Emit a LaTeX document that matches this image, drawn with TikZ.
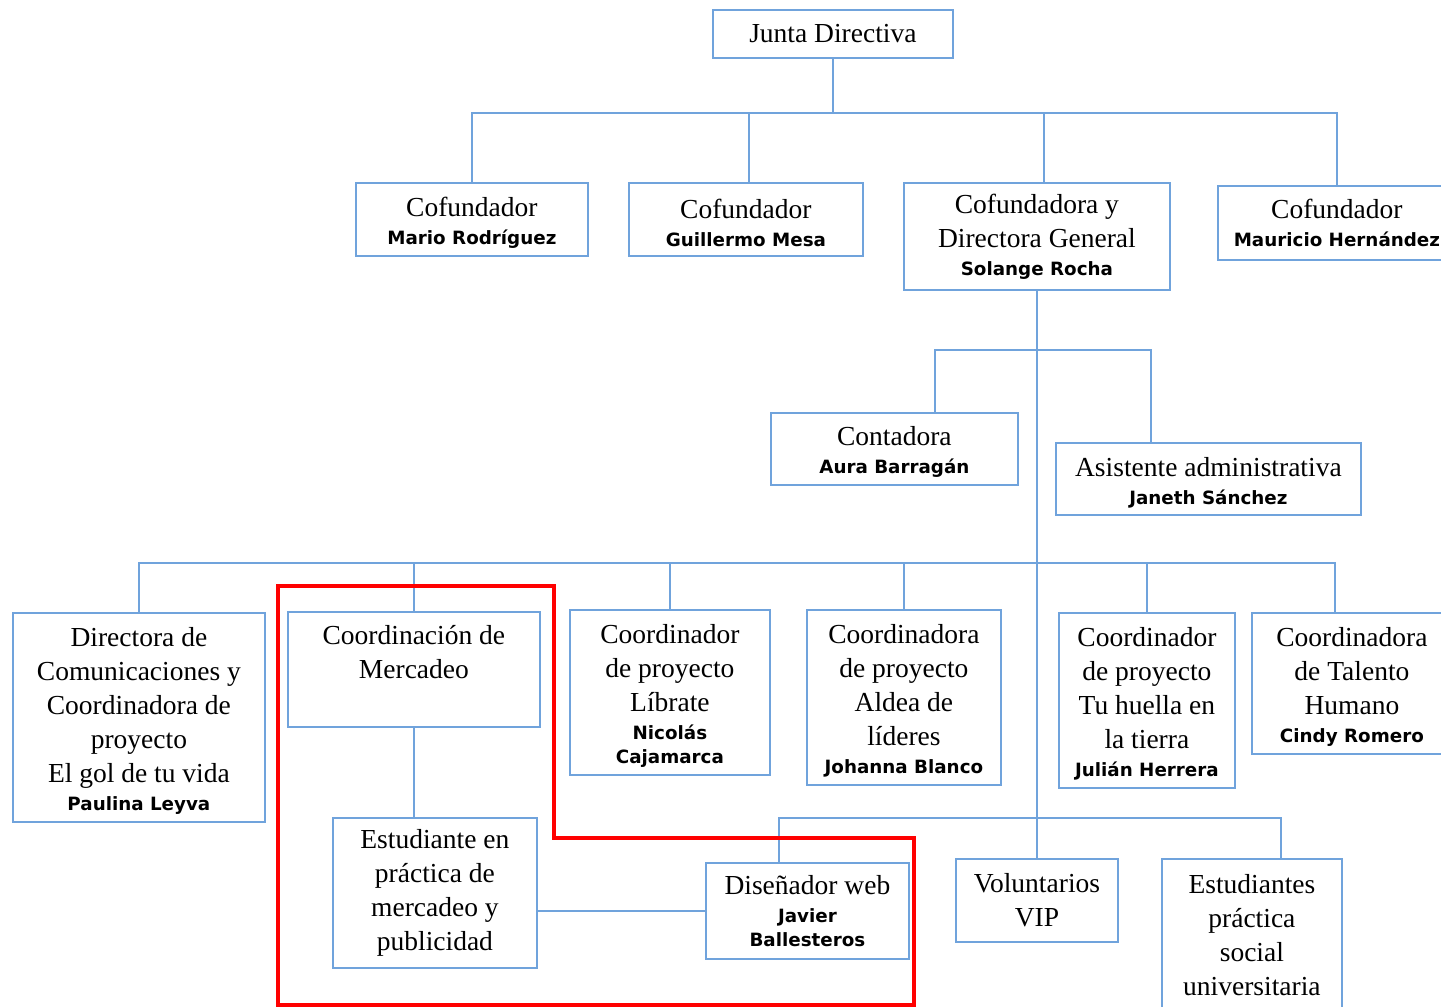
\documentclass[tikz,border=0pt]{standalone}
\usepackage{fontspec}
\setmainfont{Liberation Serif}
\newfontfamily\namefamily{DejaVu Sans}
\usepackage{tikz}
\usetikzlibrary{positioning}

\definecolor{orgblue}{RGB}{112,163,220}
\newcommand{\titlefont}{\fontsize{27.5}{34}\selectfont}
\newcommand{\who}[1]{{\namefamily\bfseries\fontsize{18.3}{24}\selectfont #1}}
\newcommand{\pad}{\rule{0pt}{26pt}}% pushes the text of a box a little lower

\tikzset{
  orgbox/.style={draw=orgblue,line width=1.8pt,inner sep=0pt,align=center,
    font=\titlefont,anchor=north west},
  link/.style={draw=orgblue,line width=1.8pt}
}

\begin{document}
\begin{tikzpicture}[x=1pt,y=-1pt]
    \useasboundingbox (0,0) rectangle (1441,1007);
    \clip (0,0) rectangle (1441,1007);

    % board and founders
    \node[orgbox,minimum width=240,minimum height=48] (junta) at (712,9) {Junta Directiva};
    \node[orgbox,minimum width=232,minimum height=73] (mario) at (355,182) {\pad Cofundador\\[-6pt]\who{Mario Rodríguez}};
    \node[orgbox,minimum width=234,minimum height=73] (guillermo) at (628,182) {\pad Cofundador\\[-6pt]\who{Guillermo Mesa}};
    \node[orgbox,minimum width=266,minimum height=107] (solange) at (903,182) {Cofundadora y\\Directora General\\[-6pt]\who{Solange Rocha}};
    \node[orgbox,minimum width=238,minimum height=74] (mauricio) at (1217,185) {Cofundador\\[-6pt]\who{Mauricio Hernández}};

    % staff
    \node[orgbox,minimum width=247,minimum height=72] (aura) at (770,412) {\pad Contadora\\[-6pt]\who{Aura Barragán}};
    \node[orgbox,minimum width=305,minimum height=72] (janeth) at (1055,442) {\pad Asistente administrativa\\[-6pt]\who{Janeth Sánchez}};

    % coordinators
    \node[orgbox,minimum width=252,minimum height=209] (paulina) at (12,612) {\pad Directora de\\Comunicaciones y\\Coordinadora de\\proyecto\\El gol de tu vida\\[-6pt]\who{Paulina Leyva}};
    \node[orgbox,minimum width=252,minimum height=115] (mercadeo) at (287,611) {Coordinación de\\Mercadeo\\~};
    \node[orgbox,minimum width=200,minimum height=165] (nicolas) at (569,609) {\pad Coordinador\\de proyecto\\Líbrate\\[-6pt]\who{Nicolás}\\[-10pt]\who{Cajamarca}};
    \node[orgbox,minimum width=194,minimum height=175] (johanna) at (806,609) {\pad Coordinadora\\de proyecto\\Aldea de\\líderes\\[-6pt]\who{Johanna Blanco}};
    \node[orgbox,minimum width=176,minimum height=175] (julian) at (1058,612) {\pad Coordinador\\de proyecto\\Tu huella en\\la tierra\\[-6pt]\who{Julián Herrera}};
    \node[orgbox,minimum width=200,minimum height=141] (cindy) at (1251,612) {\pad Coordinadora\\de Talento\\Humano\\[-6pt]\who{Cindy Romero}};

    % bottom row
    \node[orgbox,minimum width=204,minimum height=150] (practicante) at (332,817) {Estudiante en\\práctica de\\mercadeo y\\publicidad};
    \node[orgbox,minimum width=203,minimum height=96] (javier) at (705,862) {Diseñador web\\[-6pt]\who{Javier}\\[-10pt]\who{Ballesteros}};
    \node[orgbox,minimum width=162,minimum height=83] (voluntarios) at (955,858) {Voluntarios\\VIP};
    \node[orgbox,minimum width=180,minimum height=152] (social) at (1161,858) {Estudiantes\\práctica\\social\\universitaria};

    % connectors
    \coordinate (topbus) at (832,113);
    \coordinate (midbus) at (1036,350);
    \coordinate (lowbus) at (1036,563);
    \coordinate (botbus) at (1036,818);

    \draw[link] (junta.south) -- (junta.south |- topbus);
    \draw[link] (mario.north) |- (topbus) -| (mauricio.north);
    \draw[link] ([xshift=3]guillermo.north) -- ([xshift=3]guillermo.north |- topbus);
    \draw[link] ([xshift=7]solange.north) -- ([xshift=7]solange.north |- topbus);

    \draw[link] (solange.south) -- (voluntarios.north);
    \draw[link] ([xshift=40.5]aura.north) |- (midbus) -| ([xshift=-57.5]janeth.north);

    \draw[link] (paulina.north) |- (lowbus) -| ([xshift=-17]cindy.north);
    \foreach \n in {mercadeo,nicolas,johanna,julian}
        \draw[link] (\n.north) -- (\n.north |- lowbus);

    \draw[link] (mercadeo.south) -- (mercadeo.south |- practicante.north);
    \draw[link] (javier.west) -- (javier.west -| practicante.east);
    \draw[link] ([xshift=-28.5]javier.north) |- (botbus) -| ([xshift=29]social.north);

    % highlighted area
    \draw[red,line width=4.5pt] (278,1005) |- (554,586) |- (914,838) -- (914,1005) -- cycle;
\end{tikzpicture}
\end{document}
